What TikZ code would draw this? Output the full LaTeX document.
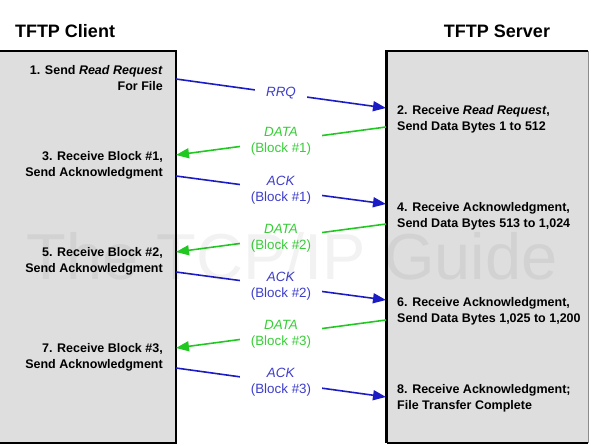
\documentclass[tikz,border=0pt]{standalone}
\usepackage{fontspec}
\setmainfont{Liberation Sans}
\usetikzlibrary{arrows.meta,positioning,calc}

\definecolor{ackblue}{RGB}{28,28,196}
\definecolor{datagreen}{RGB}{34,200,34}
\definecolor{boxgray}{RGB}{222,222,222}

\tikzset{
    boxtitle/.style={font=\fontsize{18}{20}\selectfont\bfseries},
    clientstep/.style={anchor=east, align=right, inner sep=0pt, font=\fontsize{12.5}{16}\selectfont\bfseries},
    serverstep/.style={anchor=west, align=left, inner sep=0pt, font=\fontsize{12.5}{16}\selectfont\bfseries},
    acklink/.style={draw=ackblue, line width=1.6pt, -{Triangle[length=13pt,width=10pt]}},
    datalink/.style={draw=datagreen, line width=1.6pt, -{Triangle[length=13pt,width=10pt]}},
    msgtag/.style={midway, fill=white, inner xsep=11pt, inner ysep=1pt, align=center, font=\fontsize{13.4}{16}\selectfont},
}

\begin{document}
\begin{tikzpicture}[x=1pt, y=-1pt]
    %\draw[step=10,help lines] (0,0) grid (591,445);
    \useasboundingbox (0,0) rectangle (591,445);

    % the two hosts
    \fill[boxgray] (0,51) rectangle (176,443);
    \draw[line width=2pt] (0,51) -- (176,51) -- (176,443) -- (0,443);
    \fill[boxgray] (386,51) rectangle (588,443);
    \draw[black!45, line width=1pt] (588,51) -- (588,443);
    \draw[line width=2pt] (588,51) -- (386.5,51);
    \draw[line width=3pt] (386.5,50) -- (386.5,443);
    \draw[line width=2pt] (386.5,443) -- (588,443);

    \node[boxtitle] (client) at (65,31.5) {TFTP Client};
    \node[boxtitle] (server) at (497,31.5) {TFTP Server};

    % steps
    \node[clientstep] (step1) at (163,78.5) {1. Send \textit{Read Request}\\For File};
    \node[serverstep] (step2) at (397,119.5) {2. Receive \textit{Read Request},\\Send Data Bytes 1 to 512};
    \node[clientstep] (step3) at (163,165) {3. Receive Block \#1,\\Send Acknowledgment};
    \node[serverstep] (step4) at (397,216) {4. Receive Acknowledgment,\\Send Data Bytes 513 to 1,024};
    \node[clientstep] (step5) at (163,261) {5. Receive Block \#2,\\Send Acknowledgment};
    \node[serverstep] (step6) at (397,311.5) {6. Receive Acknowledgment,\\Send Data Bytes 1,025 to 1,200};
    \node[clientstep] (step7) at (163,357) {7. Receive Block \#3,\\Send Acknowledgment};
    \node[serverstep] (step8) at (397,398.5) {8. Receive Acknowledgment;\\File Transfer Complete};

    % ends of the messages on the box edges
    \coordinate (rrqC) at (176,79);
    \coordinate (rrqS) at (386,108);
    \coordinate (data1S) at (386,127);
    \coordinate (data1C) at (176,155);
    \coordinate (ack1C) at (176,176);
    \coordinate (ack1S) at (386,204);
    \coordinate (data2S) at (386,224);
    \coordinate (data2C) at (176,252);
    \coordinate (ack2C) at (176,272);
    \coordinate (ack2S) at (386,300);
    \coordinate (data3S) at (386,320);
    \coordinate (data3C) at (176,348);
    \coordinate (ack3C) at (176,368);
    \coordinate (ack3S) at (386,397);

    % messages
    \draw[acklink] (rrqC) -- (rrqS) node[msgtag, text=ackblue!85!white] (rrq) {\textit{RRQ}};
    \draw[datalink] (data1S) -- (data1C) node[msgtag, text=datagreen!90!white] (data1) {\textit{DATA}\\(Block \#1)};
    \draw[acklink] (ack1C) -- (ack1S) node[msgtag, text=ackblue!85!white] (ack1) {\textit{ACK}\\(Block \#1)};
    \draw[datalink] (data2S) -- (data2C) node[msgtag, text=datagreen!90!white] (data2) {\textit{DATA}\\(Block \#2)};
    \draw[acklink] (ack2C) -- (ack2S) node[msgtag, text=ackblue!85!white] (ack2) {\textit{ACK}\\(Block \#2)};
    \draw[datalink] (data3S) -- (data3C) node[msgtag, text=datagreen!90!white] (data3) {\textit{DATA}\\(Block \#3)};
    \draw[acklink] (ack3C) -- (ack3S) node[msgtag, text=ackblue!85!white] (ack3) {\textit{ACK}\\(Block \#3)};

    % watermark
    \node[text=black, opacity=0.05, font=\fontsize{65}{70}\selectfont] (mark) at (292,256) {The TCP/IP Guide};

\end{tikzpicture}
\end{document}
